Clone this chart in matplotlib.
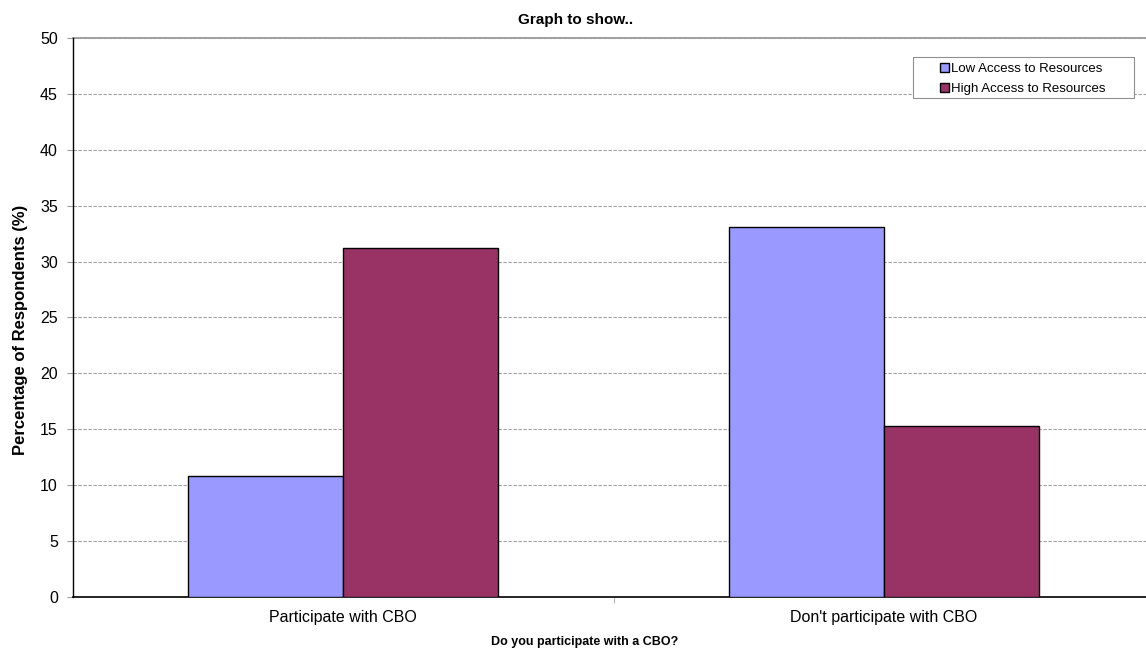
import numpy as np
import matplotlib.pyplot as plt
from matplotlib.patches import Rectangle

plt.rcParams['font.family'] = ['Liberation Sans', 'DejaVu Sans']

categories = ["Participate with CBO", "Don't participate with CBO"]
series_names = ["Low Access to Resources", "High Access to Resources"]
low_access = [10.8, 33.1]
high_access = [31.25, 15.3]
colors = ["#9999ff", "#993366"]

fig = plt.figure(figsize=(11.46, 6.48), dpi=100)
# plot area runs a little past the right edge of the canvas
ax = fig.add_axes([0.0633, 0.0787, 0.9442, 0.8627])

x = np.arange(len(categories))
w = 0.2865
for i, (vals, name) in enumerate(zip([low_access, high_access], series_names)):
    ax.bar(x + (i - 0.5) * w, vals, width=w, color=colors[i],
           edgecolor="black", linewidth=1.0, label=name, zorder=3)

ax.set_xlim(-0.5, len(categories) - 0.5)
ax.set_ylim(0, 50)
ax.set_yticks(np.arange(0, 51, 5))
ax.yaxis.grid(True, color="#a0a0a0", linestyle=(0, (3, 1.5)), linewidth=0.8, zorder=0)
ax.axhline(50, color="#909090", linewidth=1.2, zorder=1, clip_on=False)

ax.set_xticks(x)
ax.set_xticklabels(categories, fontsize=11.5)
ax.set_xticks(np.arange(0.5, len(categories) - 0.5, 1), minor=True)
ax.tick_params(axis="x", which="major", length=0, pad=9)
ax.tick_params(axis="x", which="minor", length=4, color="#a0a0a0", direction="out")
ax.tick_params(axis="y", length=4.5, color="#a0a0a0", labelsize=11.5, pad=6)

for side in ("top", "right"):
    ax.spines[side].set_visible(False)
ax.spines["left"].set_linewidth(1.0)
ax.spines["bottom"].set_linewidth(1.2)

fig.text(0.5026, 0.969, "Graph to show..", fontsize=11, fontweight="bold",
         ha="center", va="center")
fig.text(0.5105, 0.0046, "Do you participate with a CBO?", fontsize=9,
         fontweight="bold", ha="center", va="baseline")
fig.text(0.0175, 0.4907, "Percentage of Respondents (%)", fontsize=12,
         fontweight="bold", rotation=90, ha="center", va="center")

# legend box, wider than its entries
ax.add_patch(Rectangle((0.7768, 0.8919), 0.2043, 0.0744, transform=ax.transAxes,
                       facecolor="white", edgecolor="#909090", linewidth=0.8,
                       zorder=4))
ax.legend(loc="center left", bbox_to_anchor=(0.8018, 0.9266), fontsize=9.5,
          frameon=False, handlelength=0.65, handleheight=0.65, handletextpad=0.15,
          borderpad=0, labelspacing=0.62, borderaxespad=0).set_zorder(5)

fig.savefig("out.png", dpi=100)
